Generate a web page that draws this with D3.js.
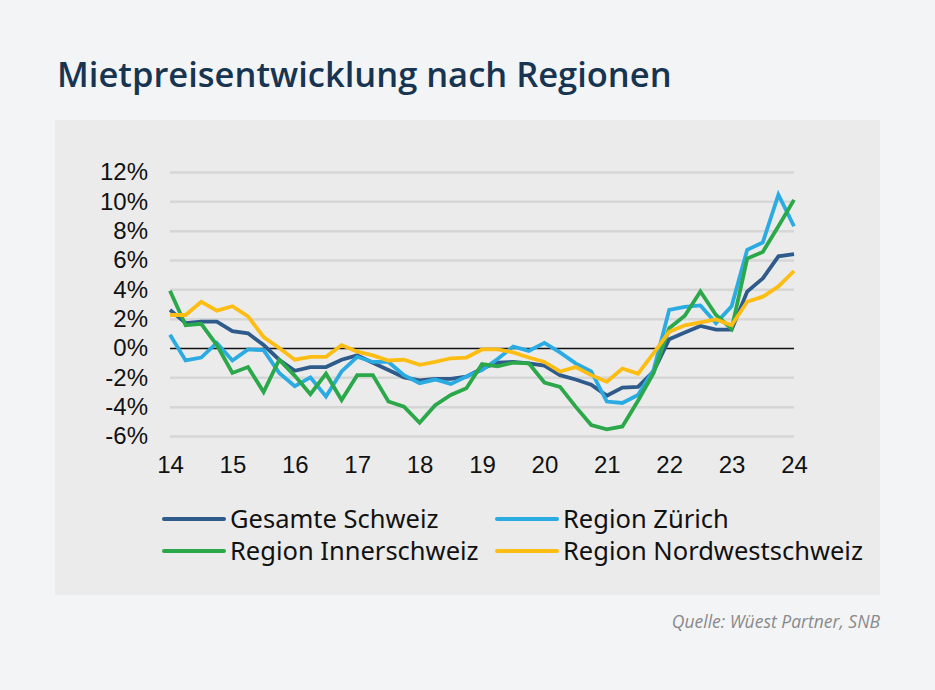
<!DOCTYPE html>
<html><head><meta charset="utf-8">
<script src="https://cdn.jsdelivr.net/npm/d3@7"></script>
<style>
html,body{margin:0;padding:0;background:#f3f4f6;}
svg{display:block;}
</style></head>
<body>
<script>
const quarters = d3.range(41).map(i => 14 + i / 4);
const xTicks = [14,15,16,17,18,19,20,21,22,23,24];
const yTicks = [-6,-4,-2,0,2,4,6,8,10,12];
const seriesNames = ["Gesamte Schweiz","Region Zürich","Region Innerschweiz","Region Nordwestschweiz"];
const gesamte = [2.6,1.7,1.8,1.8,1.15,1.0,0.2,-0.8,-1.55,-1.3,-1.3,-0.8,-0.5,-1.0,-1.5,-2.0,-2.2,-2.1,-2.1,-1.95,-1.4,-1.0,-0.95,-1.05,-1.2,-1.85,-2.15,-2.5,-3.25,-2.7,-2.65,-1.6,0.6,1.05,1.5,1.25,1.25,3.85,4.75,6.25,6.4];
const zuerich = [0.9,-0.85,-0.65,0.35,-0.85,-0.1,-0.15,-1.7,-2.6,-2.0,-3.3,-1.6,-0.6,-0.95,-0.95,-1.85,-2.4,-2.15,-2.45,-1.95,-1.5,-0.75,0.1,-0.2,0.35,-0.3,-1.05,-1.6,-3.65,-3.75,-3.2,-1.5,2.6,2.8,2.9,1.7,2.85,6.7,7.2,10.45,8.3];
const inner = [3.9,1.55,1.65,0.2,-1.7,-1.3,-3.0,-0.8,-1.9,-3.15,-1.75,-3.55,-1.85,-1.85,-3.65,-4.0,-5.1,-3.9,-3.2,-2.75,-1.1,-1.25,-1.0,-1.05,-2.35,-2.65,-4.0,-5.25,-5.55,-5.35,-3.6,-1.7,1.35,2.2,3.85,2.25,1.3,6.1,6.55,8.3,10.1];
const nordwest = [2.25,2.25,3.15,2.55,2.85,2.15,0.75,0.0,-0.8,-0.6,-0.6,0.2,-0.25,-0.5,-0.85,-0.8,-1.15,-0.95,-0.7,-0.65,-0.1,-0.1,-0.3,-0.65,-0.95,-1.6,-1.3,-1.85,-2.3,-1.4,-1.75,-0.35,1.1,1.55,1.75,1.95,1.55,3.15,3.5,4.2,5.25];
const seriesValues = [gesamte, zuerich, inner, nordwest];
const colors = ["#2e5b8c","#2aabe2","#2ba84a","#fdbd13"];

const W = 935, H = 690;
const svg = d3.select("body").append("svg").attr("width", W).attr("height", H);
svg.append("rect").attr("width", W).attr("height", H).attr("fill", "#f3f4f6");
svg.append("rect").attr("x", 55).attr("y", 120).attr("width", 825).attr("height", 475).attr("fill", "#ebebeb");

svg.append("text").attr("x", 57).attr("y", 87)
  .attr("font-family", "'Open Sans', sans-serif").attr("font-weight", 600)
  .attr("font-size", 34.5).attr("fill", "#173451")
  .text("Mietpreisentwicklung nach Regionen");

const x = d3.scaleLinear().domain([14, 24]).range([170, 794]);
const y = d3.scaleLinear().domain([-6, 12]).range([436, 172]);

const gy = svg.append("g").attr("transform", "translate(170,0)")
  .call(d3.axisLeft(y).tickValues(yTicks).tickSize(-624).tickPadding(22).tickFormat(d => d + "%"));
gy.select(".domain").remove();
gy.selectAll(".tick line").attr("stroke", "#d6d6d6").attr("stroke-width", 2.5);
gy.selectAll(".tick text").attr("font-family", "'Liberation Sans', Arial, sans-serif").attr("font-size", 24).attr("fill", "#111");
gy.selectAll(".tick").filter(d => d === 0).select("line").attr("stroke", "#111").attr("stroke-width", 1.5);

const gx = svg.append("g").attr("transform", "translate(0,450)")
  .call(d3.axisBottom(x).tickValues(xTicks).tickSize(0).tickPadding(6).tickFormat(d => d));
gx.select(".domain").remove();
gx.selectAll(".tick text").attr("font-family", "'Liberation Sans', Arial, sans-serif").attr("font-size", 24).attr("fill", "#111");

const line = d3.line().x((d, i) => x(quarters[i])).y(d => y(d));
seriesValues.forEach((vals, k) => {
  svg.append("path").datum(vals).attr("d", line)
    .attr("fill", "none").attr("stroke", colors[k]).attr("stroke-width", 3.8)
    .attr("stroke-linejoin", "miter").attr("stroke-linecap", "butt");
});

const legPos = [[164,519],[497,519],[164,551],[497,551]];
seriesNames.forEach((name, k) => {
  const [lx, ly] = legPos[k];
  svg.append("line").attr("x1", lx).attr("x2", lx + 60).attr("y1", ly).attr("y2", ly)
    .attr("stroke", colors[k]).attr("stroke-width", 4).attr("stroke-linecap", "round");
  svg.append("text").attr("x", lx + 66).attr("y", ly + 9)
    .attr("font-family", "'Noto Sans', sans-serif").attr("font-size", 25.5).attr("fill", "#111")
    .text(name);
});

svg.append("text").attr("x", 880).attr("y", 628).attr("text-anchor", "end")
  .attr("font-family", "'Open Sans', sans-serif").attr("font-style", "italic")
  .attr("font-size", 17.5).attr("fill", "#8a8a8a")
  .text("Quelle: Wüest Partner, SNB");
</script>
</body></html>
